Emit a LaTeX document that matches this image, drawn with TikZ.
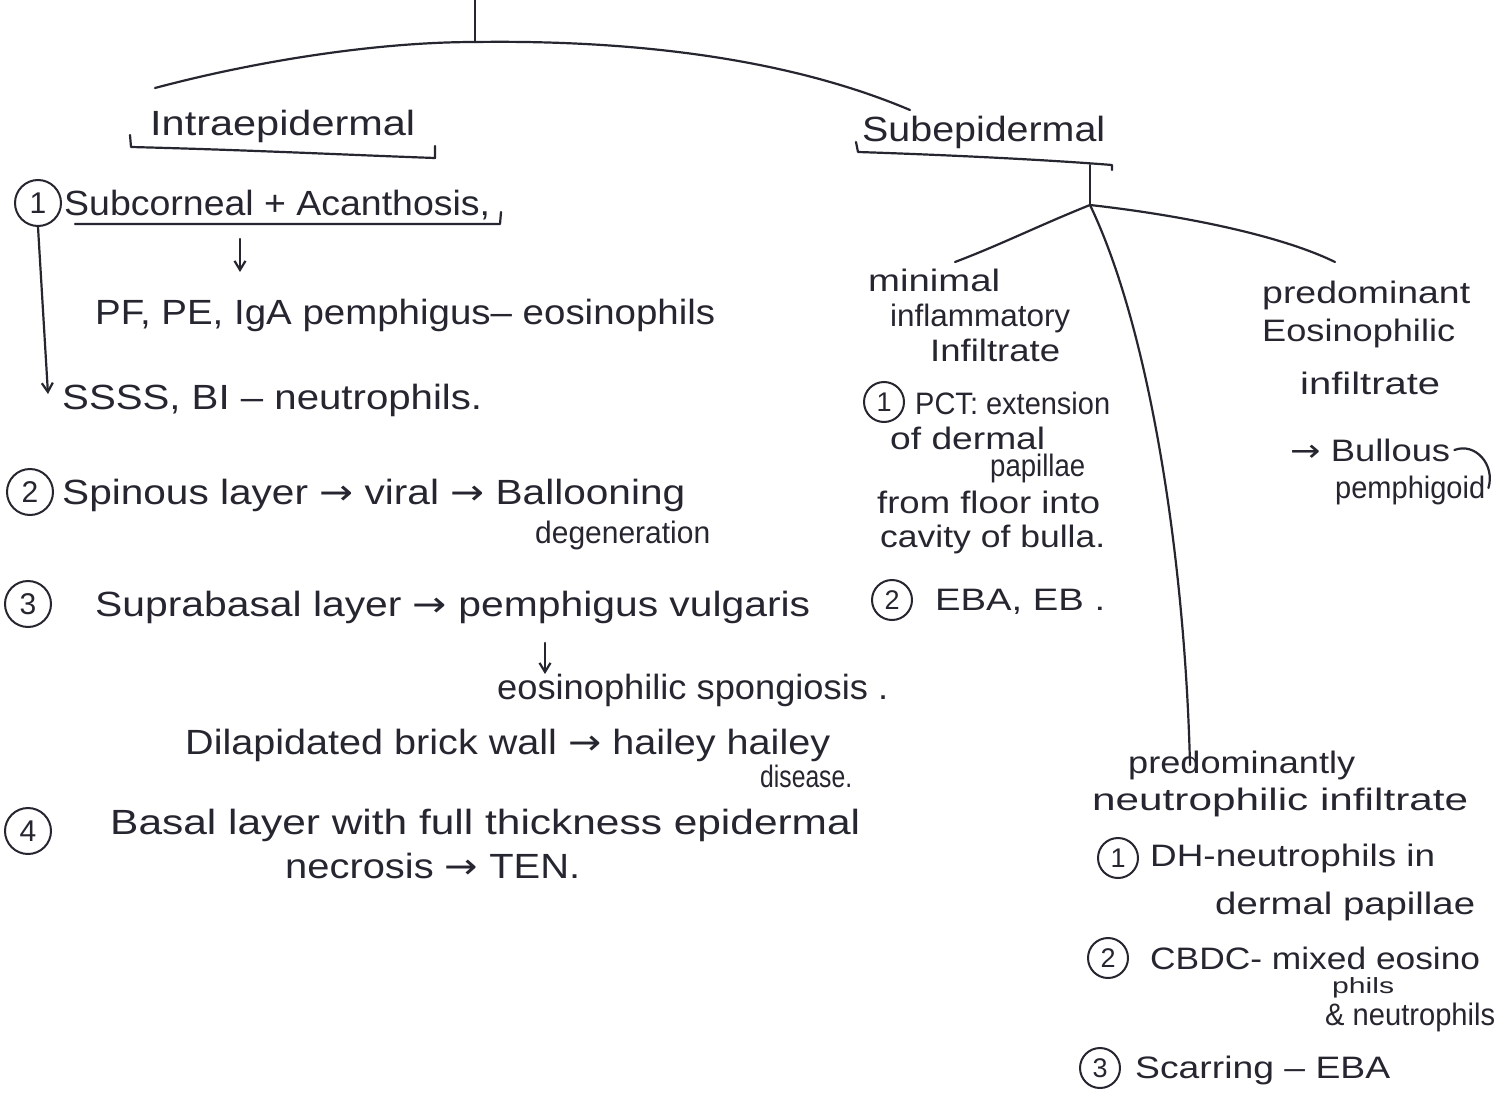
\documentclass[tikz,border=0pt]{standalone}
\usepackage{fontspec}
\usepackage{graphicx}
\setmainfont{Liberation Sans}
\newfontfamily\symfont{DejaVu Sans}
\usetikzlibrary{calc,arrows.meta}
\definecolor{ink}{RGB}{38,38,48}
\newcommand{\ra}{{\symfont →}}
% stretch a line of text to a given width, keeping its height
\newcommand{\fw}[2]{\resizebox{#1pt}{\height}{#2}}
\begin{document}
\begin{tikzpicture}[x=1pt,y=-1pt,
  ink/.style={draw=ink,line width=2.2pt,line cap=round,line join=round},
  big/.style={text=ink,anchor=west,inner sep=0pt,font=\fontsize{35}{40}\selectfont},
  mid/.style={text=ink,anchor=west,inner sep=0pt,font=\fontsize{31}{36}\selectfont},
  small/.style={text=ink,anchor=west,inner sep=0pt,font=\fontsize{22}{26}\selectfont},
  num/.style={draw=ink,line width=2pt,shape=circle,minimum size=46pt,inner sep=0pt,text=ink,font=\fontsize{30}{32}\selectfont},
  numr/.style={num,minimum size=40pt,font=\fontsize{27}{30}\selectfont},
  tip/.style={-{Straight Barb[length=9pt,width=11pt]}}]
\useasboundingbox[fill=white] (0,0) rectangle (1510,1113);

% ---------- root ----------
\coordinate (top) at (475,0);
\coordinate (fork) at (475,42);
\coordinate (lend) at (155,88);
\coordinate (rend) at (910,110);
\draw[ink] (top) -- (fork);
\draw[ink] (lend) .. controls (260,60) and (380,42) .. (fork);
\draw[ink] (fork) .. controls (620,40) and (780,55) .. (rend);

% ---------- intraepidermal ----------
\node[big] (intra) at (150,126) {\fw{265}{Intraepidermal}};
\draw[ink] (130,135) -- (131,147) .. controls (250,150) and (350,155) .. (435,158) -- (435,146);

\node[num] (n1) at (38,203) {1};
\node[big] (subc) at (64,205) {\fw{426}{Subcorneal + Acanthosis,}};
\draw[ink] (75,224) -- (500,224) -- (501,212);
\coordinate (a1s) at (240,239);
\coordinate (a1e) at (240,272);
\draw[ink,tip] (a1s) -- (a1e);
\node[big] (pf) at (95,315) {\fw{620}{PF, PE, IgA pemphigus– eosinophils}};
\node[big] (ssss) at (62,400) {\fw{420}{SSSS, BI – neutrophils.}};
\draw[ink,tip] (n1.south) -- ($(ssss.west)+(-14,-6)$);

\node[num] (n2) at (30,492) {2};
\node[big] (spin) at (62,495) {\fw{623}{Spinous layer \ra\ viral \ra\ Ballooning}};
\node[mid] (deg) at (535,535) {\fw{175}{degeneration}};

\node[num] (n3) at (28,604) {3};
\node[big] (supra) at (95,607) {\fw{715}{Suprabasal layer \ra\ pemphigus vulgaris}};
\coordinate (a2s) at (545,643);
\coordinate (a2e) at (545,674);
\draw[ink,tip] (a2s) -- (a2e);
\node[big] (eos) at (497,690) {\fw{391}{eosinophilic spongiosis .}};
\node[big] (dil) at (185,745) {\fw{645}{Dilapidated brick wall \ra\ hailey hailey}};
\node[mid] (dis) at (760,776) {\fw{92}{disease.}};

\node[num] (n4) at (28,831) {4};
\node[big] (basal) at (110,825) {\fw{750}{Basal layer with full thickness epidermal}};
\node[big] (necr) at (285,866) {\fw{295}{necrosis \ra\ TEN.}};

% ---------- subepidermal ----------
\node[big] (subep) at (862,132) {\fw{243}{Subepidermal}};
\draw[ink] (856,142) -- (858,152) .. controls (950,155) and (1050,160) .. (1112,165) -- (1112,170);
\coordinate (sj) at (1090,165);
\coordinate (j) at (1090,205);
\draw[ink] (sj) -- (j);
\coordinate (bl) at (955,262);
\coordinate (br) at (1335,262);
\coordinate (bm) at (1190,765);
\draw[ink] (j) .. controls (1040,225) and (1000,245) .. (bl);
\draw[ink] (j) .. controls (1180,215) and (1280,235) .. (br);
\draw[ink] (j) .. controls (1150,330) and (1185,560) .. (bm);

% minimal inflammatory infiltrate
\node[mid] (min1) at (868,280) {\fw{132}{minimal}};
\node[mid] (min2) at (890,318) {\fw{180}{inflammatory}};
\node[mid] (min3) at (930,350) {\fw{130}{Infiltrate}};
\node[numr] (m1) at (884,402) {1};
\node[mid] (pct) at (915,403) {\fw{195}{PCT: extension}};
\node[mid] (pct2) at (890,438) {\fw{155}{of dermal}};
\node[mid] (pct3) at (990,468) {\fw{95}{papillae}};
\node[mid] (pct4) at (877,502) {\fw{223}{from floor into}};
\node[mid] (pct5) at (880,539) {\fw{225}{cavity of bulla.}};
\node[numr] (m2) at (892,600) {2};
\node[mid] (eba) at (935,602) {\fw{170}{EBA, EB .}};

% predominant eosinophilic infiltrate
\node[mid] (pe1) at (1262,295) {\fw{208}{predominant}};
\node[mid] (pe2) at (1262,333) {\fw{193}{Eosinophilic}};
\node[mid] (pe3) at (1300,383) {\fw{140}{infiltrate}};
\node[mid] (bp1) at (1290,450) {\fw{160}{\ra\ Bullous}};
\node[mid] (bp2) at (1335,490) {\fw{150}{pemphigoid}};
\draw[ink] ($(bp1.east)+(4,0)$) .. controls ($(bp1.east)+(25,-8)$) and ($(bp1.east)+(45,15)$) .. ($(bp1.east)+(38,38)$);

% predominantly neutrophilic infiltrate
\node[mid] (pn1) at (1128,765) {\fw{227}{predominantly}};
\node[mid] (pn2) at (1092,802) {\fw{376}{neutrophilic infiltrate}};
\node[numr] (k1) at (1118,858) {1};
\node[mid] (dh) at (1150,858) {\fw{285}{DH-neutrophils in}};
\node[mid] (dh2) at (1215,906) {\fw{260}{dermal papillae}};
\node[numr] (k2) at (1108,958) {2};
\node[mid] (cb) at (1150,958) {\fw{330}{CBDC- mixed eosino}};
\node[small] (cb2) at (1332,988) {\fw{62}{phils}};
\node[mid] (cb3) at (1325,1017) {\fw{170}{\& neutrophils}};
\node[numr] (k3) at (1100,1068) {3};
\node[mid] (sc) at (1135,1070) {\fw{255}{Scarring – EBA}};
\end{tikzpicture}
\end{document}
